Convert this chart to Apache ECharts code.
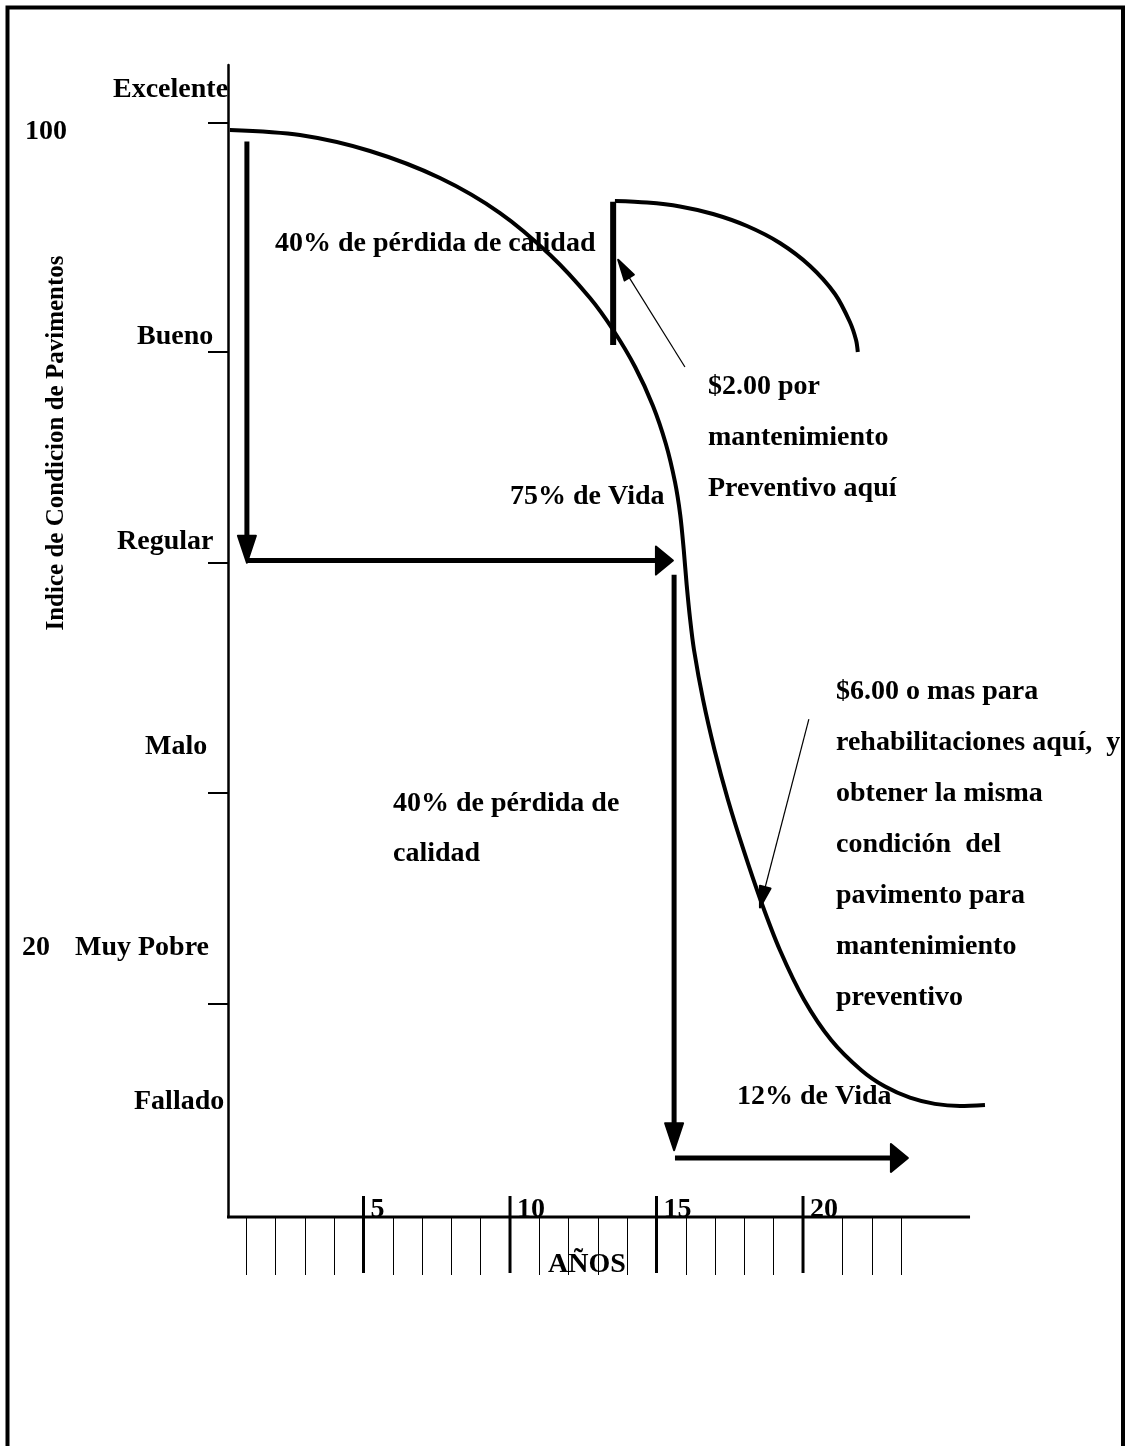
<!DOCTYPE html>
<html>
<head>
<meta charset="utf-8">
<script src="https://cdn.jsdelivr.net/npm/echarts@6.0.0/dist/echarts.min.js"></script>
<style>
  html, body { margin: 0; padding: 0; background: #fff; }
  #chart { width: 1128px; height: 1446px; }
</style>
</head>
<body>
<div id="chart"></div>
<script>
// Pavement condition index (PCI) vs. age in years
const yearsMinor = [1, 2, 3, 4, 6, 7, 8, 9, 11, 12, 13, 14, 16, 17, 18, 19, 21.35, 22.35, 23.35];
const yearsMajor = [5, 10, 15, 20];
const pciTicks = [100, 79.1, 59.8, 38.8, 19.5];
const conditionLabels = ['Excelente', 'Bueno', 'Regular', 'Malo', 'Muy Pobre', 'Fallado'];

// Deterioration of the pavement without treatment: [year, PCI]
const deteriorationCurve = [
  [0.44, 99.36], [2.83, 98.90], [5.22, 97.44], [7.61, 94.97], [9.66, 91.77],
  [11.37, 87.93], [12.73, 84.00], [13.52, 81.08], [14.27, 77.70], [14.88, 74.14],
  [15.32, 70.66], [15.63, 67.19], [15.81, 64.17], [15.93, 60.97], [16.03, 57.77],
  [16.15, 54.57], [16.28, 51.83], [16.59, 47.26], [16.98, 42.69], [17.44, 38.12],
  [17.97, 33.55], [18.55, 28.98], [19.21, 24.41], [20.04, 19.84], [20.96, 16.18],
  [21.98, 13.44], [22.80, 11.92], [23.65, 10.91], [24.50, 10.34], [25.36, 10.15],
  [26.21, 10.24]
];
// Condition after preventive maintenance: [year, PCI]
const renewedCurve = [
  [13.58, 92.87], [14.68, 92.73], [15.80, 92.37], [16.93, 91.68], [18.09, 90.58],
  [19.21, 89.03], [20.24, 86.93], [21.09, 84.37], [21.60, 81.81], [21.81, 80.16],
  [21.87, 79.07]
];
// Jump in condition produced by the preventive treatment
const treatmentJump = [[13.52, 79.7], [13.52, 92.8]];
// Life / quality-loss arrows: [yearFrom, pciFrom, yearTo, pciTo]
const lifeArrows = [
  [1.02, 98.3, 1.02, 59.8],
  [1.02, 60.0, 15.56, 60.0],
  [15.6, 58.7, 15.6, 6.1],
  [15.63, 5.4, 23.58, 5.4]
];
// Leader arrows of the cost notes: [yearFrom, pciFrom, yearTo, pciTo]
const noteLeaders = [
  [15.97, 77.7, 13.69, 87.5],
  [20.2, 45.5, 18.53, 28.3]
];
// Drawn extent of the time axis (years)
const timeAxisSpan = [[0.375, 25.7]];

const FONT = 'bold 28px "Liberation Serif", "Times New Roman", serif';
const INK = '#000';

function arrowRenderer(shaftWidth, headFor) {
  return function (params, api) {
    const a = api.coord([api.value(0), api.value(1)]);
    const b = api.coord([api.value(2), api.value(3)]);
    const dx = b[0] - a[0], dy = b[1] - a[1];
    const len = Math.hypot(dx, dy);
    const ux = dx / len, uy = dy / len;
    const head = headFor(ux, uy);
    const hl = head[0], hw = head[1];
    const bx = b[0] - ux * hl, by = b[1] - uy * hl;
    const px = -uy, py = ux;
    return {
      type: 'group',
      children: [
        { type: 'line',
          shape: { x1: a[0], y1: a[1], x2: bx + ux * 2, y2: by + uy * 2 },
          style: { stroke: INK, lineWidth: shaftWidth, lineCap: 'butt' } },
        { type: 'polygon',
          shape: { points: [[b[0], b[1]], [bx + px * hw / 2, by + py * hw / 2], [bx - px * hw / 2, by - py * hw / 2]] },
          style: { fill: INK, stroke: INK, lineWidth: 2, lineJoin: 'round' } }
      ]
    };
  };
}

function txt(text, x, y, extra) {
  return Object.assign({
    type: 'text', z: 10,
    style: { text: text, x: x, y: y, font: FONT, fill: INK,
             textAlign: 'left', align: 'left', textVerticalAlign: 'middle', verticalAlign: 'middle' }
  }, extra || {});
}

const chart = echarts.init(document.getElementById('chart'), null, { renderer: 'canvas' });

const noteLines = [
  '$6.00 o mas para', 'rehabilitaciones aquí,  y', 'obtener la misma',
  'condición  del', 'pavimento para', 'mantenimiento', 'preventivo'
];

const option = {
  animation: false,
  backgroundColor: '#fff',
  grid: { left: 228, right: 136, top: 65, bottom: 229, containLabel: false, outerBoundsMode: 'none' },
  xAxis: {
    type: 'value', min: 0.375, max: 26.45,
    axisLine: { show: false },
    axisTick: { show: true, customValues: yearsMinor, length: 58, inside: false, lineStyle: { color: INK, width: 1 } },
    axisLabel: {
      show: true, customValues: yearsMajor, margin: -7,
      align: 'left', verticalAlign: 'middle', padding: [0, 0, 0, 7],
      fontFamily: '"Liberation Serif", "Times New Roman", serif', fontWeight: 'bold', fontSize: 28, color: INK
    },
    splitLine: { show: false }
  },
  yAxis: {
    type: 'value', min: 0, max: 105.3,
    axisLine: { show: true, lineStyle: { color: INK, width: 2.5 } },
    axisTick: { show: true, customValues: pciTicks, length: 20, inside: false, lineStyle: { color: INK, width: 2 } },
    axisLabel: { show: false },
    splitLine: { show: false }
  },
  series: [
    {
      // time axis baseline
      type: 'custom', data: timeAxisSpan, encode: { x: [0, 1] }, z: 6, silent: true,
      renderItem: function (params, api) {
        const a = api.coord([api.value(0), 0]);
        const b = api.coord([api.value(1), 0]);
        return { type: 'line', shape: { x1: a[0] - 1, y1: a[1], x2: b[0], y2: b[1] },
                 style: { stroke: INK, lineWidth: 3 } };
      }
    },
    {
      type: 'line', data: deteriorationCurve, smooth: 0.3, smoothMonotone: 'none', showSymbol: false,
      lineStyle: { color: INK, width: 4, join: 'round' }, z: 3, silent: true
    },
    {
      type: 'line', data: renewedCurve, smooth: 0.3, showSymbol: false,
      lineStyle: { color: INK, width: 4, join: 'round' }, z: 3, silent: true
    },
    {
      type: 'line', data: treatmentJump, showSymbol: false,
      lineStyle: { color: INK, width: 6 }, z: 4, silent: true
    },
    {
      type: 'custom', data: lifeArrows, encode: { x: [0, 2], y: [1, 3] }, z: 5, silent: true,
      renderItem: arrowRenderer(5, function (ux, uy) {
        return Math.abs(ux) > Math.abs(uy) ? [17, 28] : [27, 18];
      })
    },
    {
      type: 'custom', data: noteLeaders, encode: { x: [0, 2], y: [1, 3] }, z: 5, silent: true,
      renderItem: arrowRenderer(1.2, function () { return [21, 11]; })
    },
    {
      // major year ticks crossing the time axis
      type: 'custom', data: yearsMajor.map(function (v) { return [v, 0]; }), encode: { x: 0, y: 1 }, z: 6, silent: true,
      renderItem: function (params, api) {
        const p = api.coord([api.value(0), api.value(1)]);
        return { type: 'line', shape: { x1: p[0], y1: p[1] - 21, x2: p[0], y2: p[1] + 56 },
                 style: { stroke: INK, lineWidth: 3 } };
      }
    }
  ],
  graphic: [
    // outer frame
    { type: 'rect', z: 20, silent: true,
      shape: { x: 7.5, y: 7.5, width: 1115.5, height: 1480 },
      style: { fill: 'none', stroke: INK, lineWidth: 4 } },
    // vertical axis title
    { type: 'text', z: 10, x: 57, y: 443, rotation: Math.PI / 2,
      style: { text: 'Indice de Condicion de Pavimentos', font: 'bold 25px "Liberation Serif", "Times New Roman", serif',
               fill: INK, textAlign: 'center', align: 'center', textVerticalAlign: 'middle', verticalAlign: 'middle' } },
    // condition scale
    txt(conditionLabels[0], 113, 90),
    txt('100', 25, 132),
    txt(conditionLabels[1], 137, 337),
    txt(conditionLabels[2], 117, 542),
    txt(conditionLabels[3], 145, 747),
    txt('20', 22, 948),
    txt(conditionLabels[4], 75, 948),
    txt(conditionLabels[5], 134, 1102),
    // annotations
    txt('40% de pérdida de calidad', 275, 244),
    txt('75% de Vida', 510, 497),
    txt('$2.00 por', 708, 387),
    txt('mantenimiento', 708, 438),
    txt('Preventivo aquí', 708, 489),
    txt('40% de pérdida de', 393, 804),
    txt('calidad', 393, 854),
    txt('12% de Vida', 737, 1097),
    txt('AÑOS', 548, 1265)
  ].concat(noteLines.map(function (line, i) { return txt(line, 836, 692 + i * 51); }))
};

chart.setOption(option);
</script>
</body>
</html>
